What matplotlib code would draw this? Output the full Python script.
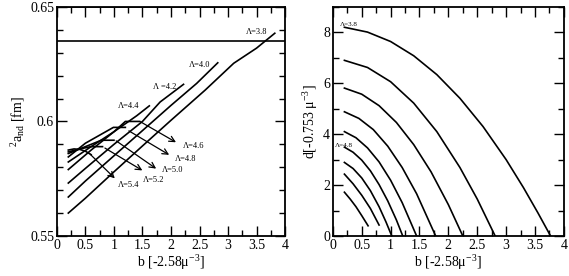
import matplotlib
matplotlib.use("Agg")
import matplotlib.pyplot as plt
from matplotlib.ticker import MultipleLocator

plt.rcParams["font.family"] = ["Liberation Serif", "DejaVu Serif"]
plt.rcParams["mathtext.fontset"] = "custom"
plt.rcParams["mathtext.rm"] = "Liberation Serif"
plt.rcParams["mathtext.it"] = "Liberation Serif"

lambdas = [3.8, 4.0, 4.2, 4.4, 4.6, 4.8, 5.0, 5.2, 5.4]

# left panel: 2a_nd vs b for each cutoff
left_b = [
    [0.2, 0.5, 1.0, 1.5, 2.0, 2.6, 3.1, 3.5, 3.82],
    [0.2, 0.5, 1.0, 1.5, 2.0, 2.45, 2.82],
    [0.2, 0.5, 1.0, 1.5, 1.81, 2.22],
    [0.2, 0.6, 1.0, 1.4, 1.62],
    [0.2, 0.6, 1.0, 1.2, 1.45],
    [0.2, 0.5, 0.99, 1.2],
    [0.2, 0.5, 0.78, 1.0],
    [0.2, 0.4, 0.6, 0.8],
    [0.2, 0.3, 0.4, 0.5, 0.6],
]
left_a = [
    [0.560, 0.5665, 0.578, 0.5893, 0.6005, 0.6137, 0.6254, 0.632, 0.6385],
    [0.567, 0.574, 0.585, 0.596, 0.607, 0.6166, 0.6256],
    [0.5731, 0.5795, 0.590, 0.600, 0.6085, 0.6162],
    [0.579, 0.5875, 0.5955, 0.6025, 0.6068],
    [0.5823, 0.589, 0.5955, 0.600, 0.600],
    [0.5845, 0.5905, 0.5974, 0.5974],
    [0.586, 0.589, 0.5918, 0.5918],
    [0.5867, 0.588, 0.589, 0.589],
    [0.5875, 0.588, 0.5878, 0.587, 0.5855],
]

# right panel: d vs b for each cutoff
right_b = [
    [0.2, 0.6, 1.0, 1.4, 1.8, 2.2, 2.6, 3.0, 3.3, 3.55, 3.77],
    [0.2, 0.6, 1.0, 1.4, 1.8, 2.2, 2.5, 2.81],
    [0.2, 0.5, 0.8, 1.1, 1.4, 1.7, 2.0, 2.25],
    [0.2, 0.45, 0.7, 0.95, 1.2, 1.45, 1.78],
    [0.2, 0.4, 0.6, 0.8, 1.0, 1.2, 1.45],
    [0.2, 0.35, 0.5, 0.65, 0.8, 0.95, 1.1, 1.21],
    [0.2, 0.35, 0.5, 0.65, 0.8, 0.92, 1.02],
    [0.2, 0.35, 0.5, 0.65, 0.8],
    [0.2, 0.3, 0.4, 0.5, 0.61],
]
right_d = [
    [8.2, 8.01, 7.64, 7.08, 6.34, 5.41, 4.30, 3.0, 1.90, 0.91, 0.0],
    [6.9, 6.62, 6.06, 5.22, 4.10, 2.69, 1.45, 0.0],
    [5.81, 5.57, 5.12, 4.46, 3.59, 2.52, 1.23, 0.0],
    [4.88, 4.62, 4.18, 3.53, 2.69, 1.66, 0.0],
    [4.1, 3.86, 3.46, 2.91, 2.19, 1.31, 0.0],
    [3.49, 3.29, 2.98, 2.56, 2.02, 1.38, 0.63, 0.0],
    [2.89, 2.65, 2.28, 1.78, 1.15, 0.55, 0.0],
    [2.43, 2.05, 1.6, 1.08, 0.43],
    [1.72, 1.45, 1.15, 0.8, 0.4],
]

a_exp = [0.635, 0.65]

tip_labels = [("\u039b=3.8", 3.31, 0.6389), ("\u039b=4.0", 2.32, 0.6246),
              ("\u039b =4.2", 1.69, 0.6151), ("\u039b=4.4", 1.07, 0.6067)]
arrow_labels = [("\u039b=4.6", (1.42, 0.6005), (2.13, 0.5903), (2.21, 0.5893)),
                ("\u039b=4.8", (1.22, 0.5965), (2.01, 0.5848), (2.07, 0.5834)),
                ("\u039b=5.0", (1.0, 0.5922), (1.78, 0.5787), (1.84, 0.5790)),
                ("\u039b=5.2", (0.8, 0.589), (1.54, 0.578), (1.51, 0.5746)),
                ("\u039b=5.4", (0.55, 0.5865), (1.05, 0.5743), (1.07, 0.5724))]

fig = plt.figure(figsize=(5.69, 2.76), dpi=100)
ax1 = fig.add_axes([0.100, 0.145, 0.401, 0.830])
ax2 = fig.add_axes([0.585, 0.145, 0.406, 0.830])

for bs, av in zip(left_b, left_a):
    ax1.plot(bs, av, color="black", lw=1.2)
for y in a_exp:
    ax1.axhline(y, color="black", lw=1.2)

for txt, x, y in tip_labels:
    ax1.text(x, y, txt, fontsize=6, va="center", ha="left")
for txt, start, end, pos in arrow_labels:
    ax1.annotate("", xy=end, xytext=start,
                 arrowprops=dict(arrowstyle="->", color="black", lw=0.9))
    ax1.text(pos[0], pos[1], txt, fontsize=6, va="center", ha="left")

fmt = plt.FuncFormatter(lambda v, p: f"{v:g}")
ax1.set_xlim(0, 4)
ax1.set_ylim(0.55, 0.65)
ax1.xaxis.set_major_locator(MultipleLocator(0.5))
ax1.xaxis.set_minor_locator(MultipleLocator(0.25))
ax1.yaxis.set_major_locator(MultipleLocator(0.05))
ax1.yaxis.set_minor_locator(MultipleLocator(0.01))
ax1.yaxis.set_major_formatter(fmt)
ax1.xaxis.set_major_formatter(fmt)
ax1.set_xlabel("b [-2.58\u03bc$^{-3}$]", fontsize=10, labelpad=1)
ax1.set_ylabel("$^{2}$a$_{\\rm nd}$ [fm]", fontsize=10, labelpad=2)

for bs, ds in zip(right_b, right_d):
    ax2.plot(bs, ds, color="black", lw=1.2)
ax2.text(0.12, 8.3, "\u039b=3.8", fontsize=5, va="center", ha="left")
ax2.text(0.04, 3.55, "\u039b=4.8", fontsize=5, va="center", ha="left")
ax2.set_xlim(0, 4)
ax2.set_ylim(0, 9)
ax2.xaxis.set_major_locator(MultipleLocator(0.5))
ax2.xaxis.set_minor_locator(MultipleLocator(0.25))
ax2.yaxis.set_major_locator(MultipleLocator(2))
ax2.yaxis.set_minor_locator(MultipleLocator(1))
ax2.xaxis.set_major_formatter(fmt)
ax2.set_xlabel("b [-2.58\u03bc$^{-3}$]", fontsize=10, labelpad=1)
ax2.set_ylabel("d[-0.753 \u03bc$^{-3}$]", fontsize=10, labelpad=2)

for ax in (ax1, ax2):
    for s in ax.spines.values():
        s.set_linewidth(1.3)
    ax.tick_params(which="both", direction="in", top=True, right=True,
                   labelsize=10, width=1.0, pad=2)
    ax.tick_params(which="major", length=7)
    ax.tick_params(which="minor", length=4)

fig.savefig("out.png", dpi=100)
